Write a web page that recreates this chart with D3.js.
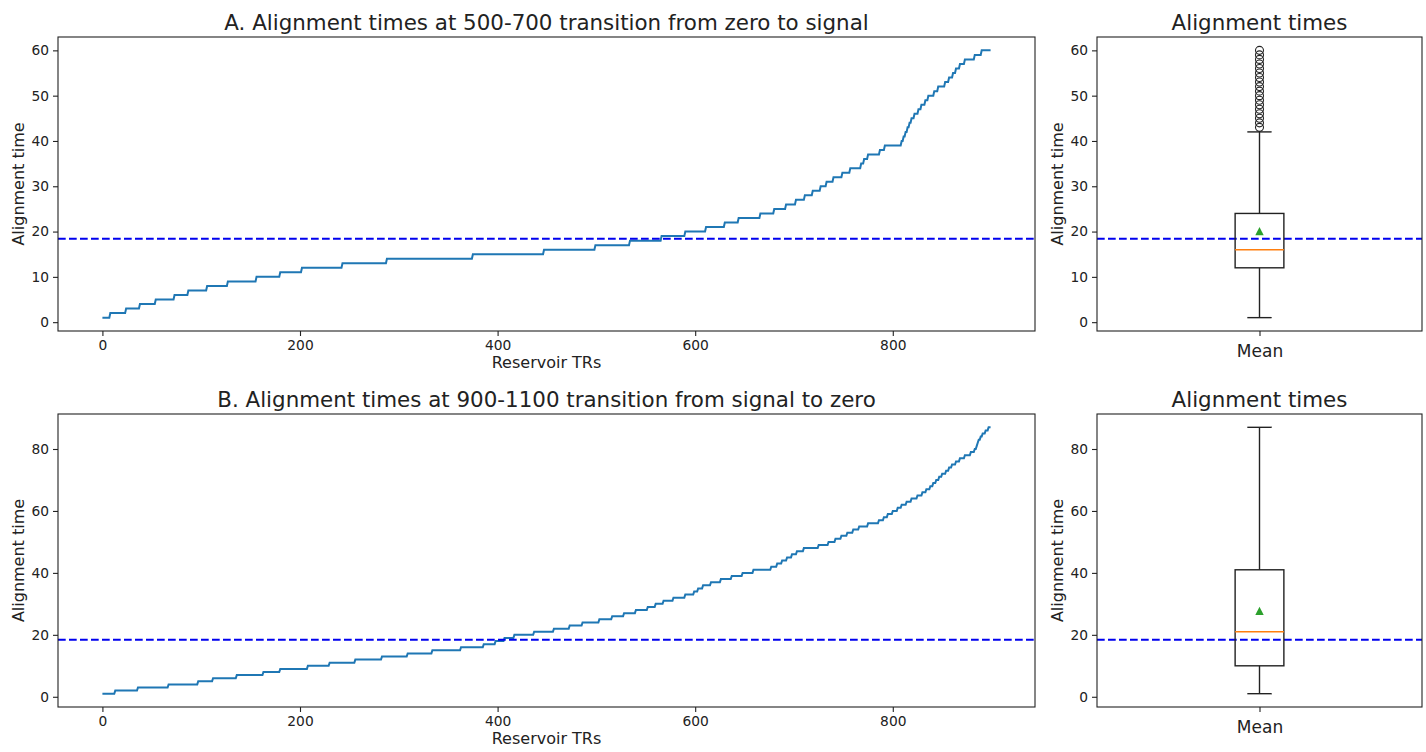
<!DOCTYPE html>
<html>
<head>
<meta charset="utf-8">
<script src="https://cdn.jsdelivr.net/npm/d3@7/dist/d3.min.js"></script>
<style>
  html, body { margin: 0; padding: 0; background: #fff; }
  svg { display: block; font-family: "DejaVu Sans", sans-serif; }
</style>
</head>
<body>
<svg id="fig" width="1426" height="752"></svg>
<script>
// Number of reservoir TRs taking each alignment time (1, 2, 3, ... TRs)
const countsA = [8, 16, 14, 16, 19, 14, 19, 21, 29, 24, 22, 41, 45, 87, 72, 52, 35, 32, 24, 21,
                 19, 14, 22, 14, 12, 10, 9, 8, 8, 6, 7, 9, 8, 11, 3, 4, 12, 5, 17, 2,
                 2, 2, 2, 2, 3, 4, 3, 4, 3, 6, 4, 7, 4, 4, 3, 4, 5, 10, 7, 10];
const countsB = [13, 23, 31, 30, 15, 24, 27, 17, 28, 22, 26, 27, 26, 25, 29, 23, 12, 9, 10, 20,
                 20, 16, 13, 17, 13, 12, 12, 12, 8, 8, 10, 12, 9, 4, 5, 8, 10, 11, 11, 11,
                 18, 6, 5, 5, 5, 5, 7, 15, 10, 7, 6, 6, 6, 6, 9, 11, 5, 4, 5, 5,
                 4, 5, 5, 6, 5, 4, 4, 3, 3, 3, 3, 4, 3, 3, 4, 4, 5, 6, 4, 2,
                 1, 1, 2, 2, 3, 3, 3];
const threshold = 18.4;            // reference alignment time (dashed line)
const xTicks = [0, 200, 400, 600, 800];
const yTicksA = [0, 10, 20, 30, 40, 50, 60];
const yTicksB = [0, 20, 40, 60, 80];
const titleA = "A. Alignment times at 500-700 transition from zero to signal";
const titleB = "B. Alignment times at 900-1100 transition from signal to zero";
const boxTitle = "Alignment times";
const boxCategory = ["Mean"];

// expand the run-length counts into the sorted per-TR series
const expand = counts => counts.flatMap((c, i) => Array(c).fill(i + 1));
const seriesA = expand(countsA);
const seriesB = expand(countsB);

const svg = d3.select("#fig");
const INK = "#222";
const LINE = "#1f77b4";
const F_TICK = 13.8, F_LABEL = 16, F_TITLE = 21.4, F_CAT = 17;

function padded(lo, hi) { const m = (hi - lo) * 0.05; return [lo - m, hi + m]; }

function frame(g, x0, y0, x1, y1) {
  g.append("rect").attr("x", x0).attr("y", y0).attr("width", x1 - x0).attr("height", y1 - y0)
    .attr("fill", "none").attr("stroke", INK).attr("stroke-width", 1.1);
}

function styleAxis(sel, size) {
  sel.select(".domain").remove();
  sel.selectAll(".tick line").attr("stroke", INK).attr("stroke-width", 1.1);
  sel.selectAll(".tick text").attr("fill", INK).style("font-size", size + "px")
    .style("font-family", "DejaVu Sans, sans-serif");
}

function drawRow(series, yTicks, top, bottom, title) {
  const L = 58, R = 1035, BL = 1097, BR = 1422;
  const g = svg.append("g");
  const x = d3.scaleLinear().domain(padded(0, series.length - 1)).range([L, R]);
  const y = d3.scaleLinear().domain(padded(d3.min(series), d3.max(series))).range([bottom, top]);

  // ---- left: sorted alignment times ----
  const clipId = "clip" + top;
  svg.append("clipPath").attr("id", clipId).append("rect")
    .attr("x", L).attr("y", top).attr("width", R - L).attr("height", bottom - top);
  const plot = g.append("g").attr("clip-path", `url(#${clipId})`);
  plot.append("path").datum(series)
    .attr("fill", "none").attr("stroke", LINE).attr("stroke-width", 2)
    .attr("d", d3.line().x((d, i) => x(i)).y(d => y(d)));
  plot.append("line").attr("x1", L).attr("x2", R).attr("y1", y(threshold)).attr("y2", y(threshold))
    .attr("stroke", "#0000ee").attr("stroke-width", 2).attr("stroke-dasharray", "7.7,3.3");

  g.append("g").attr("transform", `translate(0,${bottom})`)
    .call(d3.axisBottom(x).tickValues(xTicks).tickSize(5).tickPadding(4).tickFormat(d3.format("d")))
    .call(s => styleAxis(s, F_TICK));
  g.append("g").attr("transform", `translate(${L},0)`)
    .call(d3.axisLeft(y).tickValues(yTicks).tickSize(5).tickPadding(4).tickFormat(d3.format("d")))
    .call(s => styleAxis(s, F_TICK));
  frame(g, L, top, R, bottom);

  g.append("text").attr("x", (L + R) / 2).attr("y", top - 7.5).attr("text-anchor", "middle")
    .attr("fill", INK).style("font-size", F_TITLE + "px").text(title);
  g.append("text").attr("x", (L + R) / 2).attr("y", bottom + 37).attr("text-anchor", "middle")
    .attr("fill", INK).style("font-size", F_LABEL + "px").text("Reservoir TRs");
  g.append("text").attr("transform", `translate(24,${(top + bottom) / 2}) rotate(-90)`)
    .attr("text-anchor", "middle").attr("fill", INK).style("font-size", F_LABEL + "px").text("Alignment time");

  // ---- right: box plot of the same times ----
  const bx = d3.scaleLinear().domain([0.5, 1.5]).range([BL, BR]);
  const q1 = d3.quantile(series, 0.25), med = d3.quantile(series, 0.5), q3 = d3.quantile(series, 0.75);
  const iqr = q3 - q1;
  const hiW = d3.max(series.filter(v => v <= q3 + 1.5 * iqr));
  const loW = d3.min(series.filter(v => v >= q1 - 1.5 * iqr));
  const fliers = Array.from(new Set(series.filter(v => v > hiW || v < loW)));
  const mean = d3.mean(series);
  const by = d3.scaleLinear().domain(padded(d3.min(series), d3.max(series))).range([bottom, top]);
  const c = bx(1), hw = bx(1.075) - bx(1), cw = bx(1.0375) - bx(1);

  const box = g.append("g");
  box.append("line").attr("x1", BL).attr("x2", BR).attr("y1", by(threshold)).attr("y2", by(threshold))
    .attr("stroke", "#0000ee").attr("stroke-width", 2).attr("stroke-dasharray", "7.7,3.3");
  const bl = (x1, y1, x2, y2, col, w) => box.append("line").attr("x1", x1).attr("y1", y1)
    .attr("x2", x2).attr("y2", y2).attr("stroke", col).attr("stroke-width", w);
  bl(c, by(q3), c, by(hiW), INK, 1.4);
  bl(c, by(q1), c, by(loW), INK, 1.4);
  bl(c - cw, by(hiW), c + cw, by(hiW), INK, 1.4);
  bl(c - cw, by(loW), c + cw, by(loW), INK, 1.4);
  box.append("rect").attr("x", c - hw).attr("y", by(q3)).attr("width", 2 * hw)
    .attr("height", by(q1) - by(q3)).attr("fill", "none").attr("stroke", INK).attr("stroke-width", 1.4);
  bl(c - hw, by(med), c + hw, by(med), "#ff7f0e", 1.5);
  box.selectAll("circle.flier").data(fliers).join("circle").attr("class", "flier")
    .attr("cx", c).attr("cy", d => by(d)).attr("r", 4)
    .attr("fill", "none").attr("stroke", INK).attr("stroke-width", 1.1);
  const my = by(mean);
  box.append("path").attr("d", `M${c},${my - 4.2} L${c + 4.2},${my + 4.2} L${c - 4.2},${my + 4.2} Z`)
    .attr("fill", "#2ca02c");

  g.append("g").attr("transform", `translate(0,${bottom})`)
    .call(d3.axisBottom(bx).tickValues([1]).tickSize(5).tickPadding(8.5).tickFormat(() => boxCategory[0]))
    .call(s => styleAxis(s, F_CAT));
  g.append("g").attr("transform", `translate(${BL},0)`)
    .call(d3.axisLeft(by).tickValues(yTicks).tickSize(5).tickPadding(4).tickFormat(d3.format("d")))
    .call(s => styleAxis(s, F_TICK));
  frame(g, BL, top, BR, bottom);
  g.append("text").attr("x", (BL + BR) / 2).attr("y", top - 7.5).attr("text-anchor", "middle")
    .attr("fill", INK).style("font-size", F_TITLE + "px").text(boxTitle);
  g.append("text").attr("transform", `translate(1062.5,${(top + bottom) / 2}) rotate(-90)`)
    .attr("text-anchor", "middle").attr("fill", INK).style("font-size", F_LABEL + "px").text("Alignment time");
}

drawRow(seriesA, yTicksA, 37, 331, titleA);
drawRow(seriesB, yTicksB, 414, 707, titleB);
</script>
</body>
</html>
